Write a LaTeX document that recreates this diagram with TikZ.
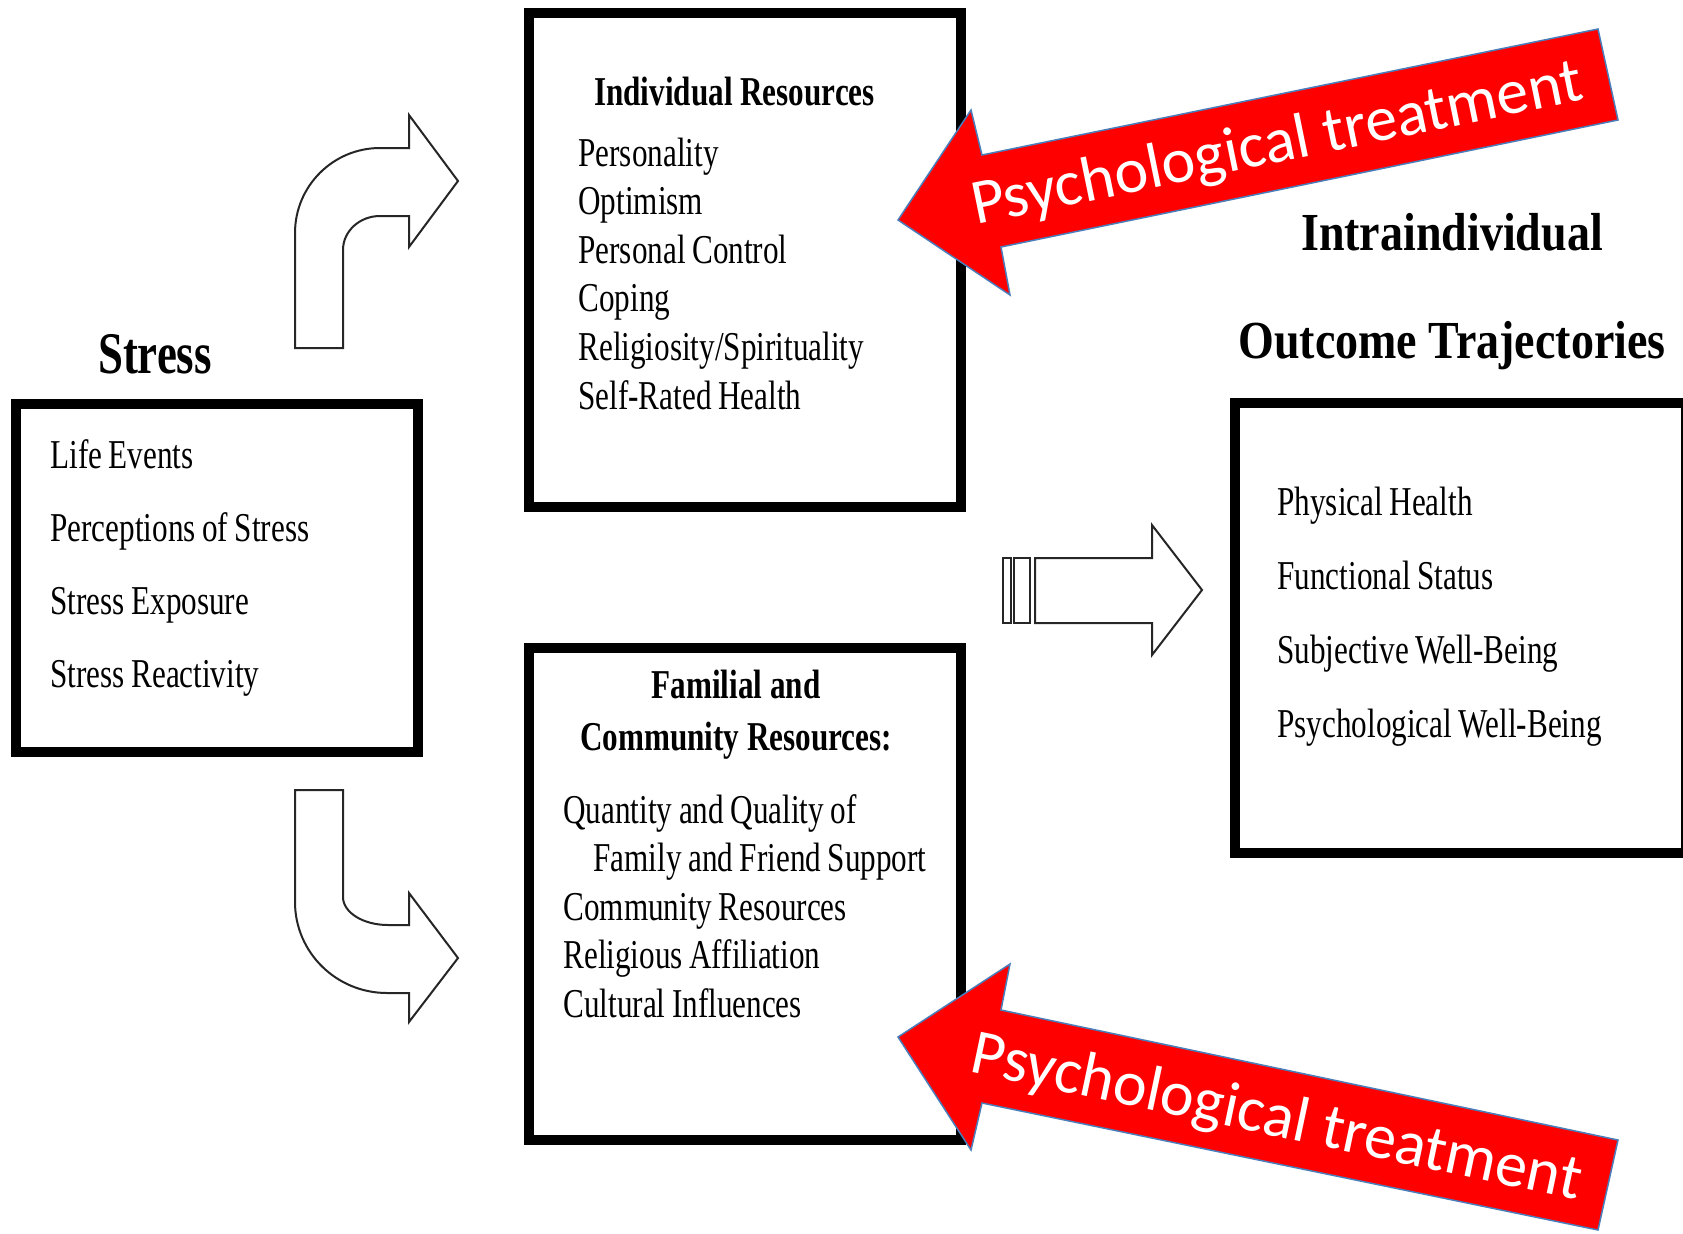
\documentclass[tikz,border=0pt]{standalone}
\usepackage{fontspec}
\setmainfont{Liberation Serif}[FakeStretch=0.76]
\newfontfamily\headingfont{Liberation Serif}[FakeStretch=0.86]
\newfontfamily\treatfont{Carlito}
\usetikzlibrary{positioning}
\definecolor{treatblue}{RGB}{74,126,187}

\begin{document}
\begin{tikzpicture}[x=0.5pt, y=0.5pt]
% Define styles
\tikzstyle{panel} = [rectangle, draw=black, line width=4.75pt, inner sep=0pt]
\tikzstyle{item} = [font=\fontsize{20.5}{24}\selectfont, execute at begin node={\spaceskip=0.16em\relax}, text width=230pt, align=left, inner sep=0pt, text height=15pt, text depth=5pt]
\tikzstyle{heading} = [font=\fontsize{20.5}{24}\selectfont\bfseries, inner sep=0pt, text height=15pt, text depth=5pt]
\tikzstyle{bigtitle} = [font=\headingfont\fontsize{26.75}{32}\selectfont\bfseries, inner sep=0pt, text height=20pt, text depth=6pt]
\tikzstyle{blockarrow} = [draw=black!85, line width=1pt, fill=white, line join=miter]
\tikzstyle{treatment} = [fill=red, draw=treatblue, line width=0.75pt, line join=miter]
\tikzstyle{treatlabel} = [font=\treatfont\fontsize{32}{38}\selectfont, text=white, inner sep=0pt, anchor=base]

\useasboundingbox (0,0) rectangle (1683,-1233);

% Draw boxes
\node (stressbox) [panel, minimum width=201pt, minimum height=174pt] at (217,-578) {};
\node (indbox) [panel, minimum width=216pt, minimum height=247pt] at (745,-260) {};
\node (fambox) [panel, minimum width=216pt, minimum height=246pt] at (745,-894) {};
\node (outbox) [panel, minimum width=225.5pt, minimum height=225pt] at (1460.5,-628) {};

% Stress
\node (stresstitle) [font=\fontsize{29.5}{35}\selectfont\bfseries, anchor=base] at (155,-373) {Stress};
\begin{scope}[node distance=36.5pt, on grid]
\node (life) [item, anchor=base west] at (50,-468) {Life Events};
\node (perceptions) [item, below=of life] {Perceptions of Stress};
\node (exposure) [item, below=of perceptions] {Stress Exposure};
\node (reactivity) [item, below=of exposure] {Stress Reactivity};
\end{scope}

% Individual resources
\node (indtitle) [heading, anchor=base] at (734.5,-105) {Individual Resources};
\begin{scope}[node distance=24.3pt, on grid]
\node (personality) [item, anchor=base west] at (578,-166) {Personality};
\node (optimism) [item, below=of personality] {Optimism};
\node (control) [item, below=of optimism] {Personal Control};
\node (coping) [item, below=of control] {Coping};
\node (religiosity) [item, below=of coping] {Religiosity/Spirituality};
\node (selfrated) [item, below=of religiosity] {Self-Rated Health};
\end{scope}

% Familial and community resources
\begin{scope}[node distance=26pt, on grid]
\node (famtitle) [heading, anchor=base] at (736,-698) {Familial and};
\node (commtitle) [heading, below=of famtitle] {Community Resources:};
\end{scope}
\begin{scope}[node distance=24.25pt, on grid]
\node (quantity) [item, anchor=base west] at (563,-823) {Quantity and Quality of};
\node (family) [item, below=of quantity] {\hspace*{15pt}Family and Friend Support};
\node (community) [item, below=of family] {Community Resources};
\node (affiliation) [item, below=of community] {Religious Affiliation};
\node (cultural) [item, below=of affiliation] {Cultural Influences};
\end{scope}

% Outcomes
\begin{scope}[node distance=54pt, on grid]
\node (intratitle) [bigtitle, anchor=base] at (1452,-250) {Intraindividual};
\node (trajtitle) [bigtitle, below=of intratitle] {Outcome Trajectories};
\end{scope}
\begin{scope}[node distance=37pt, on grid]
\node (physical) [item, anchor=base west] at (1277,-515) {Physical Health};
\node (functional) [item, below=of physical] {Functional Status};
\node (subjective) [item, below=of functional] {Subjective Well-Being};
\node (psychwb) [item, below=of subjective] {Psychological Well-Being};
\end{scope}

% Block arrows
\draw [blockarrow] (295,-348) -- (295,-233) arc[start angle=180, end angle=90, x radius=42.5pt, y radius=42.5pt]
  -- (409,-148) -- (409,-115) -- (458,-181) -- (409,-247) -- (409,-216) -- (380,-216)
  arc[start angle=90, end angle=180, x radius=18.5pt, y radius=17pt] -- (343,-348) -- cycle;
\draw [blockarrow] (295,-790) -- (343,-790) -- (343,-897) arc[start angle=180, end angle=270, x radius=22.5pt, y radius=14pt]
  -- (409,-925) -- (409,-893) -- (458,-958) -- (409,-1022) -- (409,-993) -- (387,-993)
  arc[start angle=270, end angle=180, x radius=46pt, y radius=45.5pt] -- cycle;
\draw [blockarrow] (1003,-558) rectangle (1011,-623);
\draw [blockarrow] (1014,-558) rectangle (1030,-623);
\draw [blockarrow] (1035,-558) -- (1152,-558) -- (1152,-525) -- (1202,-590) -- (1152,-655) -- (1152,-623) -- (1035,-623) -- cycle;

% Treatment arrows
\draw [treatment] (898,-220) -- (971,-110) -- (982,-155) -- (1598,-29) -- (1618,-120) -- (1001,-247) -- (1010,-295) -- cycle;
\draw [treatment] (898,-1037) -- (1010,-964) -- (1001,-1010) -- (1618,-1140) -- (1598,-1230) -- (982,-1103) -- (971,-1150) -- cycle;
\node (treatup) [treatlabel, rotate=11.6] at (1281,-162) {Psychological treatment};
\node (treatdown) [treatlabel, rotate=-11.9] at (1273,-1136) {Psychological treatment};
\end{tikzpicture}
\end{document}
